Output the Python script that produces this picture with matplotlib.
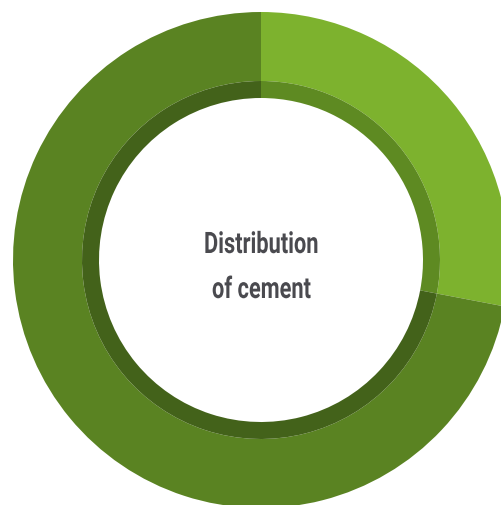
import matplotlib
matplotlib.use("Agg")
import matplotlib.pyplot as plt
from matplotlib.patheffects import AbstractPathEffect
from matplotlib.transforms import Affine2D

labels = ["Share A", "Share B"]
values = [28, 72]
outer_colors = ["#7db22e", "#5a8322"]
inner_colors = ["#5e8a22", "#43621a"]
title_lines = ["Distribution", "of cement"]


class HScale(AbstractPathEffect):
    """Condense text horizontally around a given display x."""
    def __init__(self, sx, x0):
        super().__init__()
        self.sx = sx
        self.x0 = x0

    def draw_path(self, renderer, gc, tpath, affine, rgbFace=None):
        t = affine + Affine2D().translate(-self.x0, 0).scale(self.sx, 1).translate(self.x0, 0)
        renderer.draw_path(gc, tpath, t, rgbFace)


W, H = 502, 506
fig = plt.figure(figsize=(W / 100, H / 100), dpi=100)
ax = fig.add_axes([0, 0, 1, 1])
ax.axis("off")

cx, cy = 261, H - 261
r_out, r_mid, r_in = 248, 179, 162

ax.pie(values, radius=r_out, center=(cx, cy), colors=outer_colors,
       startangle=90, counterclock=False,
       wedgeprops=dict(width=r_out - r_mid, linewidth=0))
ax.pie(values, radius=r_mid, center=(cx, cy), colors=inner_colors,
       startangle=90, counterclock=False,
       wedgeprops=dict(width=r_mid - r_in, linewidth=0))
ax.set_xlim(0, W)
ax.set_ylim(0, H)
ax.set_aspect("equal")

tx = 261.5
t1 = ax.text(tx, H - 254, title_lines[0], ha="center", va="baseline", fontsize=21.3,
             fontweight="bold", color="#4a4a4f", family="Roboto")
t2 = ax.text(tx, H - 299, title_lines[1], ha="center", va="baseline", fontsize=21.3,
             fontweight="bold", color="#4a4a4f", family="Roboto")

fig.canvas.draw()
r = fig.canvas.get_renderer()
w1 = t1.get_window_extent(r).width
sx = 115.0 / w1
for t in (t1, t2):
    t.set_path_effects([HScale(sx, tx)])

fig.savefig("out.png", dpi=100)
